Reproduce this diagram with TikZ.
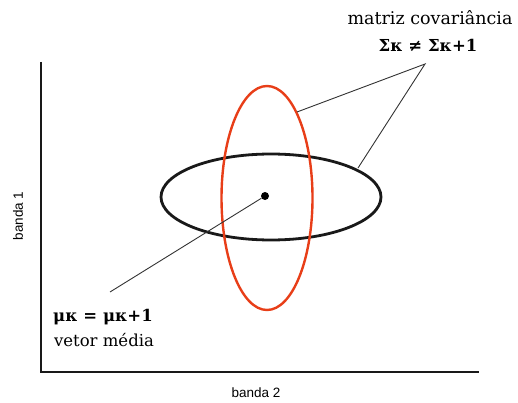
\documentclass[tikz,border=0pt]{standalone}
\usepackage{fontspec}
\setmainfont{DejaVu Serif}
\newfontfamily\axfont{Liberation Sans}
\definecolor{redell}{RGB}{232,62,24}
\begin{document}
\begin{tikzpicture}[x=1pt,y=-1pt,
  axis/.style={line width=2.3pt,black!90},
  leader/.style={line width=0.9pt,black!80},
  lbl/.style={inner sep=0pt,font=\fontsize{16.5}{18}\selectfont},
  formula/.style={inner sep=0pt,font=\bfseries\fontsize{16.5}{18}\selectfont},
  axlbl/.style={inner sep=0pt,font=\axfont\fontsize{13.5}{15}\selectfont}]
\useasboundingbox (0,0) rectangle (518,403);
\coordinate (top) at (41,62);
\coordinate (origin) at (41,372);
\coordinate (right) at (479,372);
\draw[axis] (top) -- (origin) -- (right);
\draw[line width=2.8pt,black!90] (271,197) ellipse [x radius=110, y radius=43];
\draw[line width=2.4pt,redell] (267,198) ellipse [x radius=45.5, y radius=112];
\node[circle,fill=black,inner sep=0pt,minimum size=8pt] (mu) at (265,196) {};
\coordinate (muend) at (110,292);
\draw[leader] (mu) -- (muend);
\coordinate (apex) at (425,64);
\coordinate (redpt) at (297,112);
\coordinate (blackpt) at (358,168);
\draw[leader] (redpt) -- (apex) -- (blackpt);
\node[lbl,font=\fontsize{17.5}{19}\selectfont] (mc) at (430,18) {matriz covariância};
\node[formula] (sig) at (428,45) {Σκ ≠ Σκ+1};
\node[formula] (mueq) at (103,317) {μκ = μκ+1};
\node[lbl] (vm) at (104,340) {vetor média};
\node[axlbl] (b2) at (256,393) {banda 2};
\node[axlbl,rotate=90] (b1) at (18,216) {banda 1};
\end{tikzpicture}
\end{document}
